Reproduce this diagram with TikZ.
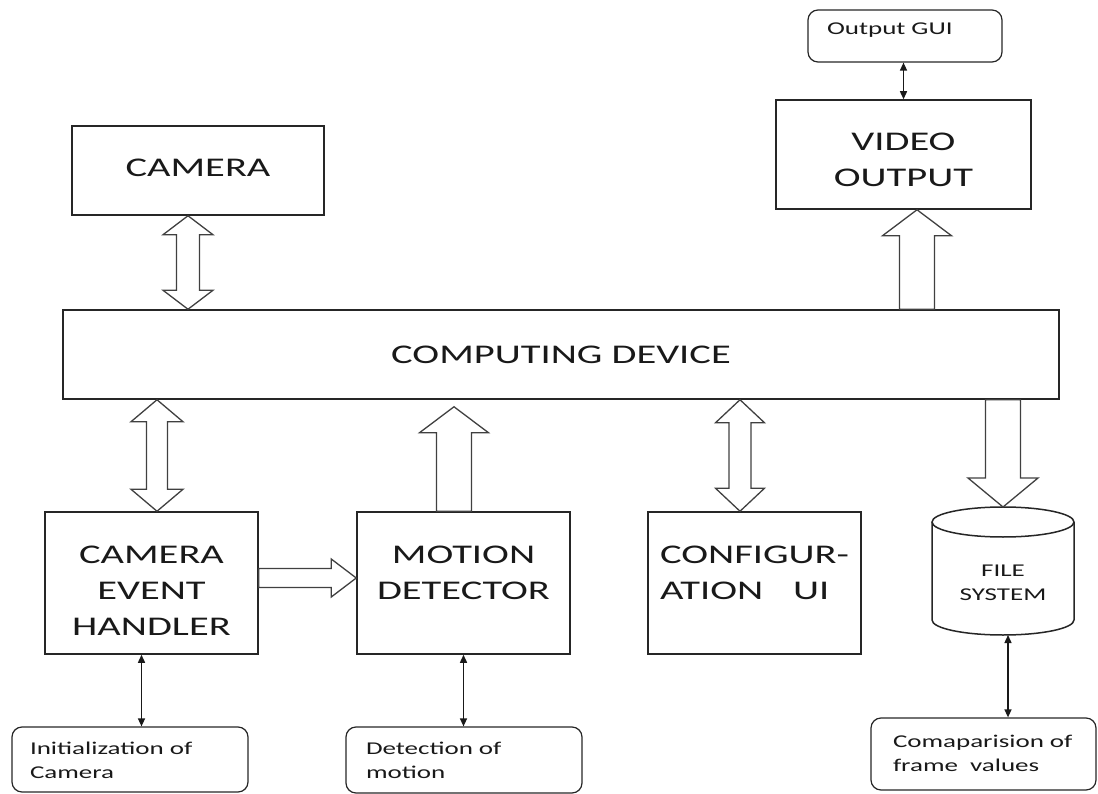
\documentclass[tikz,border=0pt]{standalone}
\usepackage{fontspec}
\usetikzlibrary{arrows.meta,calc,positioning}
\newfontfamily\boxfont[FakeStretch=1.5]{Carlito}
\newcommand{\bigtext}{\boxfont\fontsize{27}{36}\selectfont}
\newcommand{\smalltext}{\boxfont\fontsize{18}{24}\selectfont}

\begin{document}
\begin{tikzpicture}[x=1pt,y=-1pt,
    blk/.style={draw=black!85, line width=1.5pt, font=\bigtext, text=black!90, align=center, inner ysep=0pt},
    note/.style={draw=black!85, line width=1.2pt, rounded corners=10pt, font=\smalltext, text=black!90, align=left, inner ysep=0pt},
    link/.style={black!90, line width=1.4pt, {Triangle[length=8pt,width=7pt]}-{Triangle[length=8pt,width=7pt]}},
    hollow/.style={draw=black!75, line width=1.3pt},
    fat/.style n args={3}{to path={
        ($(\tikztostart)!#1!90:(\tikztotarget)$)
        -- ($(\tikztotarget)!#3!(\tikztostart)!#1!90:(\tikztotarget)$)
        -- ($(\tikztotarget)!#3!(\tikztostart)!#2!90:(\tikztotarget)$)
        -- (\tikztotarget)
        -- ($(\tikztotarget)!#3!(\tikztostart)!#2!-90:(\tikztotarget)$)
        -- ($(\tikztotarget)!#3!(\tikztostart)!#1!-90:(\tikztotarget)$)
        -- ($(\tikztostart)!#1!-90:(\tikztotarget)$)
        -- cycle}},
    fatboth/.style n args={3}{to path={
        ($(\tikztostart)!#3!(\tikztotarget)!#1!90:(\tikztotarget)$)
        -- ($(\tikztotarget)!#3!(\tikztostart)!#1!90:(\tikztotarget)$)
        -- ($(\tikztotarget)!#3!(\tikztostart)!#2!90:(\tikztotarget)$)
        -- (\tikztotarget)
        -- ($(\tikztotarget)!#3!(\tikztostart)!#2!-90:(\tikztotarget)$)
        -- ($(\tikztotarget)!#3!(\tikztostart)!#1!-90:(\tikztotarget)$)
        -- ($(\tikztostart)!#3!(\tikztotarget)!#1!-90:(\tikztotarget)$)
        -- ($(\tikztostart)!#3!(\tikztotarget)!#2!-90:(\tikztotarget)$)
        -- (\tikztostart)
        -- ($(\tikztostart)!#3!(\tikztotarget)!#2!90:(\tikztotarget)$)
        -- cycle}}]
\useasboundingbox (0,0) rectangle (1098,794);

% main blocks
\node[blk, minimum width=252pt, text height=51pt, text depth=38pt] (cam) at (198,170.5) {CAMERA};
\node[blk, minimum width=996pt, text height=53pt, text depth=36pt] (comp) at (561,354.5) {COMPUTING DEVICE};
\node[blk, minimum width=255pt, text height=87pt, text depth=22pt] (vid) at (903.5,154.5) {VIDEO\\OUTPUT};
\node[blk, minimum width=213pt, text height=123pt, text depth=19pt] (ceh) at (151.5,583) {CAMERA\\EVENT\\HANDLER};
\node[blk, minimum width=213pt, text height=87pt, text depth=55pt] (md) at (463.5,583) {MOTION\\DETECTOR};
\node[blk, align=left, minimum width=213pt, text height=87pt, text depth=55pt] (cfg) at (754.5,583) {CONFIGUR-\\ATION\hspace{30pt}UI};

% file system
\node[font=\smalltext, text=black!90, align=center] (fs) at (1003,583) {FILE\\SYSTEM};
\draw[line width=1.5pt, draw=black!85] (932,522) -- (932,620) arc[start angle=180, end angle=360, x radius=71pt, y radius=15pt] -- (1074,522);
\draw[line width=1.5pt, draw=black!85] (1003,522) ellipse[x radius=71pt, y radius=15pt];
\coordinate (fstop) at (1003,507);
\coordinate (fsbot) at (1008,635);

% small notes
\node[note, text width=156pt, inner xsep=19pt, text height=25pt, text depth=27pt] (gui) at (905,36) {Output~GUI};
\node[note, text width=200pt, inner xsep=18pt, text height=27pt, text depth=38pt] (init) at (130,759.5) {Initialization~of\\Camera};
\node[note, text width=196pt, inner xsep=20pt, text height=27pt, text depth=39pt] (det) at (464,760) {Detection~of\\motion};
\node[note, text width=181pt, inner xsep=22pt, text height=29pt, text depth=43pt] (cmp) at (983.5,754) {Comaparision~of\\frame\ \ values};

% thin links
\coordinate (ceh-io) at ([xshift=-10pt]ceh.south);
\draw[link] (vid.north) -- (vid.north |- gui.south);
\draw[link] (ceh-io) -- (ceh-io |- init.north);
\draw[link] (md.south) -- (md.south |- det.north);
\draw[link] (fsbot) -- (fsbot |- cmp.north);

% block arrows
\coordinate (cam-dn) at ([xshift=-10pt]cam.south);
\coordinate (comp-cam) at (cam-dn |- comp.north);
\draw[hollow] (cam-dn) to[fatboth={11.5pt}{25pt}{19pt}] (comp-cam);

\coordinate (ceh-up) at ([xshift=5.5pt]ceh.north);
\coordinate (comp-ceh) at (ceh-up |- comp.south);
\draw[hollow] (comp-ceh) to[fatboth={10.5pt}{26pt}{22pt}] (ceh-up);

\coordinate (md-up) at ([xshift=-9.5pt]md.north);
\coordinate (comp-md) at ($(md-up |- comp.south)+(0,7)$);
\draw[hollow] (md-up) to[fat={17.5pt}{34.5pt}{26pt}] (comp-md);

\coordinate (cfg-up) at ([xshift=-14.5pt]cfg.north);
\coordinate (comp-cfg) at (cfg-up |- comp.south);
\draw[hollow] (comp-cfg) to[fatboth={11pt}{24.5pt}{23pt}] (cfg-up);

\coordinate (comp-fs) at (fstop |- comp.south);
\draw[hollow] (comp-fs) to[fat={17.5pt}{35pt}{29pt}] (fstop);

\coordinate (vid-dn) at ([xshift=13.5pt]vid.south);
\coordinate (comp-vid) at (vid-dn |- comp.north);
\draw[hollow] (comp-vid) to[fat={17.5pt}{34.5pt}{26pt}] (vid-dn);

\coordinate (ceh-rt) at ([yshift=5pt]ceh.east);
\coordinate (md-lt) at (ceh-rt -| md.west);
\draw[hollow] (ceh-rt) to[fat={9.5pt}{19pt}{25pt}] (md-lt);
\end{tikzpicture}
\end{document}
